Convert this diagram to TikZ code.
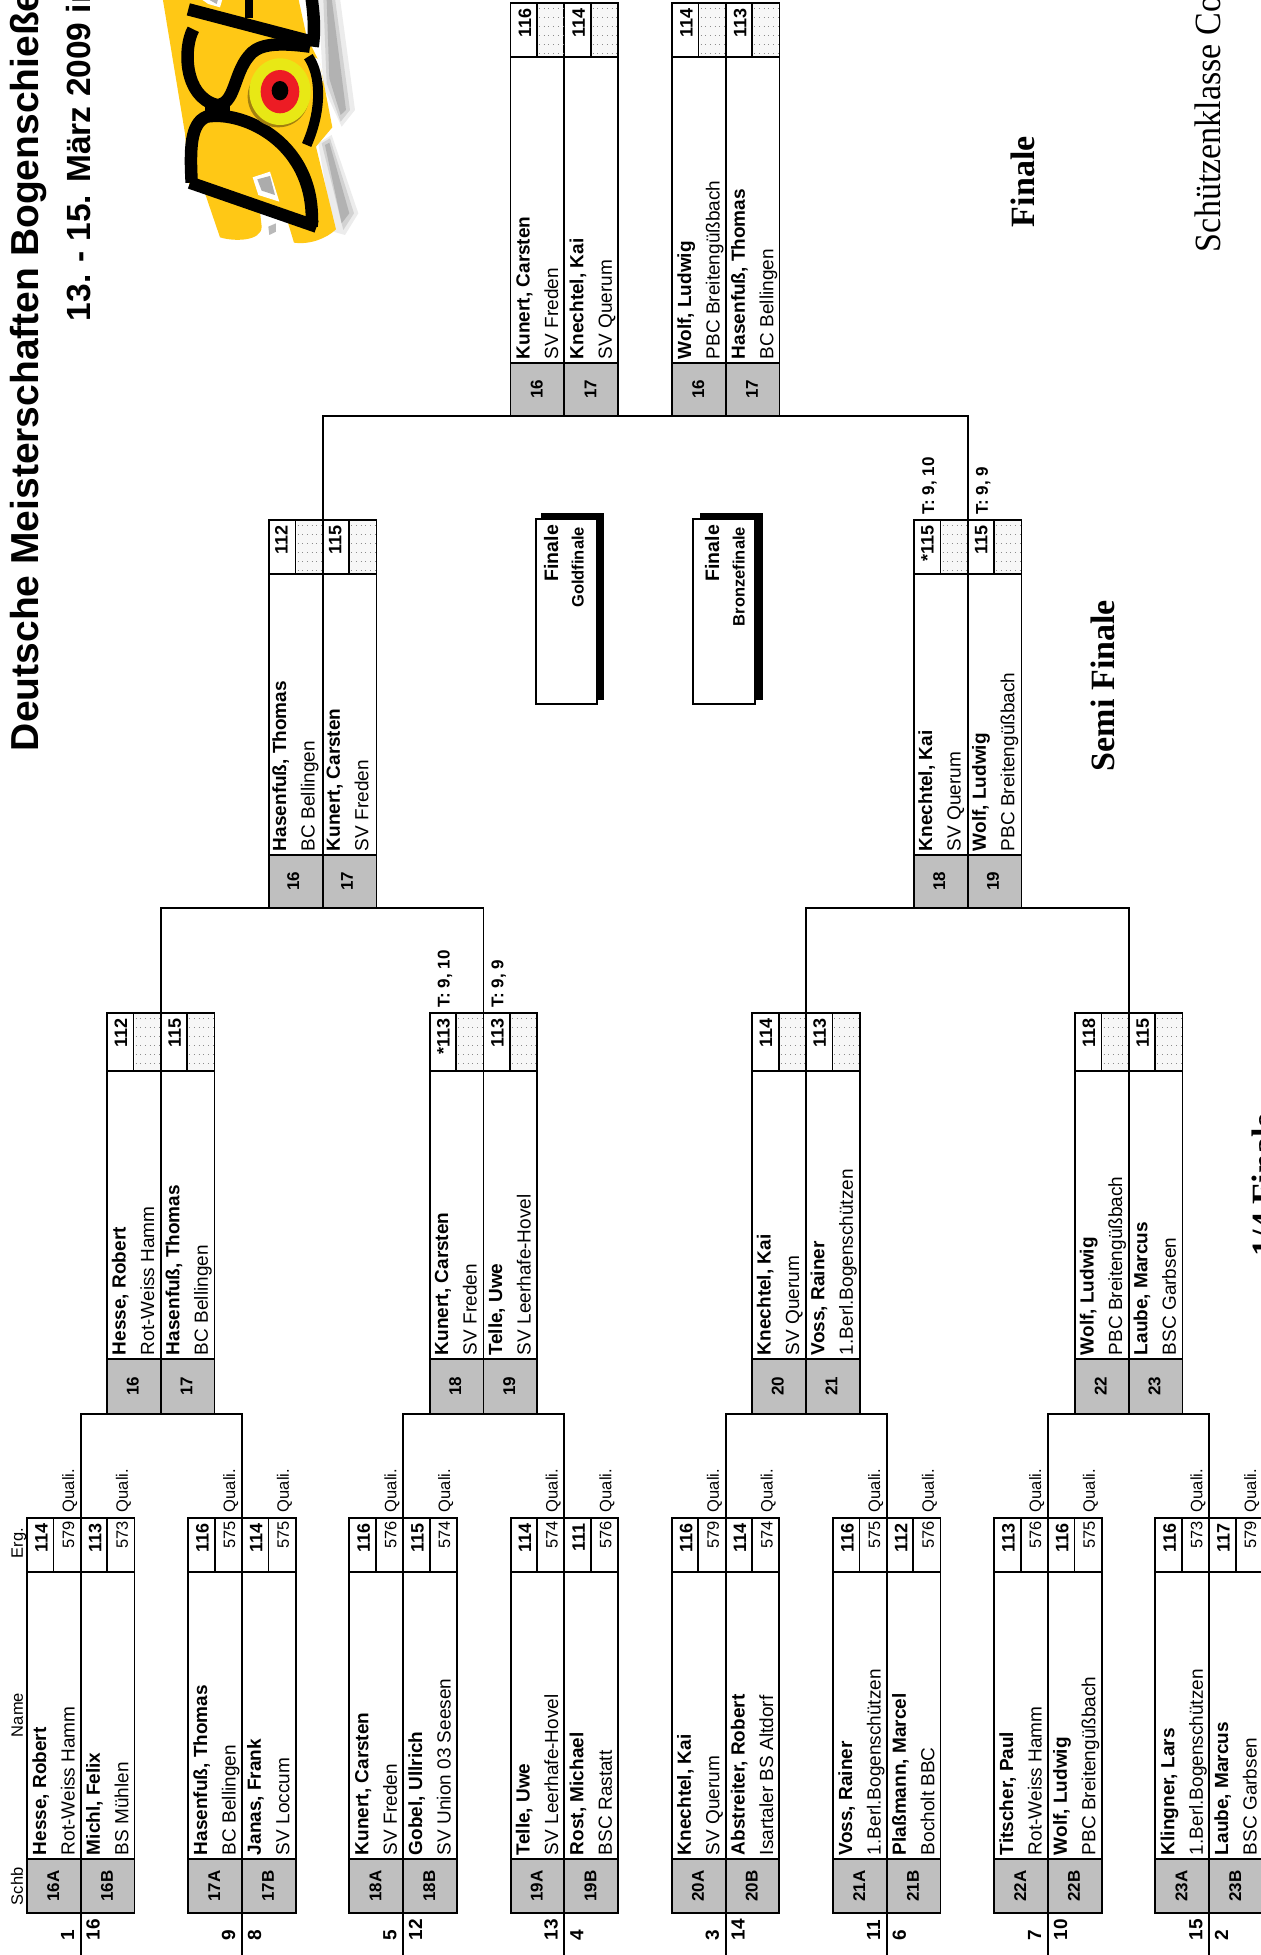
\documentclass[tikz,border=0pt]{standalone}
\usepackage{fontspec}
\setmainfont{Liberation Sans}
\newfontfamily\headserif{Liberation Serif}
\definecolor{cellgrey}{HTML}{BFBFBF}
\definecolor{dsbyellow}{HTML}{FFC815}
\definecolor{dsbtarget}{HTML}{E8E815}
\definecolor{dsbred}{HTML}{ED1C24}
\tikzset{
  rule/.style={line width=1.9pt,black},
  matchbox/.style={draw,rule,inner sep=0pt,outer sep=0pt,minimum width=107.5pt},
  up/.style={rotate=90,inner sep=0pt,outer sep=0pt,anchor=base west},
  upend/.style={rotate=90,inner sep=0pt,outer sep=0pt,anchor=base east},
  upmid/.style={rotate=90,inner sep=0pt,outer sep=0pt,anchor=base},
  conn/.style={rule,line cap=rect},
  finbox/.style={draw,rule,fill=white,inner sep=0pt,outer sep=0pt},
  finshadow/.style={fill=black,draw=black,inner sep=0pt,outer sep=0pt},
  logostroke/.style={draw=black,line width=12.5pt,line join=round,line cap=butt},
}
\newcommand{\sz}[1]{\fontsize{#1}{#1}\selectfont}
\newcommand{\setround}[4]{\def\rT{#1}\def\rA{#2}\def\rB{#3}\def\rE{#4}}
% box of a match: name, left edge
\newcommand{\Match}[2]{%
  \fill[cellgrey] (#2,\rB) rectangle ({#2+107.5},\rE);
  \node[matchbox,minimum height={(\rE-\rT)*1pt}] (#1) at ({#2+53.75},{(\rT+\rE)/2}) {};
  \draw[rule] (#2,\rA) -- ({#2+107.5},\rA) (#2,\rB) -- ({#2+107.5},\rB);
  \draw[rule] ({#2+53.75},\rT) -- ({#2+53.75},\rE);
  \draw[rule] ({#2+26.5},\rT) -- ({#2+26.5},\rA) ({#2+80.25},\rT) -- ({#2+80.25},\rA);
}
% texts of one half: id, left edge, label, name, club, score
\newcommand{\Side}[6]{%
  \node[upmid] (#1-lab) at ({#2+32},{(\rB+\rE)/2}) {\sz{17}\bfseries #3};
  \node[up] (#1-name) at ({#2+19},{\rB-4}) {\sz{19}\bfseries #4};
  \node[up] (#1-club) at ({#2+47.5},{\rB-4}) {\sz{19}#5};
  \node[upend] (#1-score) at ({#2+20.5},{\rT+5}) {\sz{18}\bfseries #6};
}
\newcommand{\Qual}[3]{%
  \node[upend] (#1-qv) at ({#2+47},{\rT+3}) {\sz{16.5}#3};
  \node[up] (#1-ql) at ({#2+47},{\rT-6}) {\sz{16.5}Quali.};
}
\newcommand{\Dots}[1]{%
  \fill[gray!6] ({#1+27.6},{\rT+1}) rectangle ({#1+52.7},{\rA-1});
  \foreach \dy in {5,14,23,32,41,50}
    \draw[gray!90,line width=0.8pt,dash pattern=on 0.8pt off 3.9pt] ({#1+28.5},{\rT+\dy}) -- ({#1+52.5},{\rT+\dy});
}
\newcommand{\Tie}[3]{\node[up] (#1) at ({#2+20},{\rT-6}) {\sz{17}\bfseries #3};}
\newcommand{\Seed}[3]{\node[up] (#1) at (#2,1940) {\sz{19}\bfseries #3};}
\begin{document}
\begin{tikzpicture}[x=1pt,y=-1pt]
\clip (0,0) rectangle (1261,1955);
\fill[white] (0,0) rectangle (1261,1955);

% ---------- logo ----------
\begin{scope}[shift={(150,0)},x=0.3333pt,y=-0.3333pt]
  \fill[gray!15] (505,-5) -- (570,-5) -- (615,330) -- (575,380) -- (520,260) -- cycle;
  \fill[gray!35] (520,-5) -- (555,-5) -- (600,330) -- (572,365) -- (530,250) -- cycle;
  \fill[gray!60] (530,-5) -- (545,-5) -- (588,330) -- (572,345) -- (538,235) -- cycle;
  \fill[gray!15] (505,430) -- (545,405) -- (625,640) -- (585,705) -- (550,695) -- cycle;
  \fill[gray!35] (515,430) -- (540,415) -- (612,640) -- (580,690) -- cycle;
  \fill[gray!60] (525,435) -- (538,428) -- (598,640) -- (575,670) -- cycle;
  \fill[dsbyellow] (38,-5) -- (105,400) -- (118,560) -- (165,580) -- (210,712)
     .. controls (250,725) and (335,725) .. (335,680) -- (330,635) -- (410,655) -- (432,728)
     .. controls (480,735) and (530,715) .. (558,688) -- (498,440) -- (547,382) -- (510,190) -- (470,110) -- (445,-5) -- cycle;
  \fill[white] (455,-5) -- (478,-5) -- (478,70) -- cycle;
  \fill[white] (490,170) -- (510,180) -- (520,250) -- cycle;
  \fill[white] (308,532) -- (360,515) -- (388,605) -- (325,585) -- cycle;
  \fill[gray!65] (322,538) -- (360,528) -- (375,585) -- (335,572) -- cycle;
  \fill[white] (335,635) -- (388,650) -- (385,700) -- (345,718) -- cycle;
  \fill[gray!55] (355,680) -- (378,670) -- (378,695) -- (358,705) -- cycle;
  \fill[white] (150,-5) -- (218,-5) -- (210,22) -- (175,12) -- cycle;
  \fill[gray!60] (170,-5) -- (205,-5) -- (200,12) -- cycle;
  \draw[logostroke] (115,28) -- (485,125);
  \draw[logostroke,line width=8pt] (297,-5) -- (297,55);
  \draw[logostroke] (485,-5) .. controls (492,50) and (495,90) .. (488,140);
  \draw[logostroke] (130,88) .. controls (100,140) and (100,290) .. (200,315)
     .. controls (255,315) and (250,225) .. (295,170) .. controls (320,135) and (370,125) .. (480,140);
  \draw[logostroke,line width=10pt] (475,170) .. controls (510,220) and (520,320) .. (470,435);
  \draw[logostroke] (125,548) .. controls (120,450) and (120,370) .. (170,350) .. controls (280,330) and (500,430) .. (485,680);
  \draw[logostroke] (120,548) -- (500,680);
  \draw[logostroke,line width=8pt] (165,325) -- (240,325);
  \fill[black!20!dsbyellow!80!black] (385,290) ellipse [x radius=92,y radius=92];
  \fill[dsbtarget] (390,275) ellipse [x radius=92,y radius=100];
  \fill[dsbred] (390,275) ellipse [x radius=58,y radius=65];
  \fill[black] (390,272) ellipse [x radius=25,y radius=29];
\end{scope}

% ---------- titles ----------
\node[up] (title) at (38.5,751) {\sz{39}\bfseries Deutsche Meisterschaften Bogenschießen};
\node[up] (date) at (90,321) {\sz{33.5}\bfseries 13. - 15. März 2009 in};
\node[up] (klasse) at (1220,252) {\scalebox{0.92}[1]{\headserif\sz{37}Schützenklasse Co}};
\node[up] (hfinale) at (1034,227) {\headserif\sz{34}\bfseries Finale};
\node[up] (hsemi) at (1114,771) {\headserif\sz{34}\bfseries Semi Finale};
\node[up] (hquarter) at (1275,1256) {\headserif\sz{34}\bfseries 1/4 Finale};

% ---------- column heads ----------
\node[up] (hschb) at (23,1905) {\sz{16.5}Schb};
\node[up] (hname) at (23,1737) {\sz{16.5}Name};
\node[up] (herg) at (23,1558) {\sz{16.5}Erg.};

% ---------- round of 16 ----------
\setround{1518}{1572}{1859}{1913}
\Match{ra}{27}
\Side{ra1}{27}{16A}{Hesse, Robert}{Rot-Weiss Hamm}{114}\Qual{ra1}{27}{579}
\Side{ra2}{80.75}{16B}{Michl, Felix}{BS Mühlen}{113}\Qual{ra2}{80.75}{573}
\Match{rb}{188.2}
\Side{rb1}{188.2}{17A}{Hasenfuß, Thomas}{BC Bellingen}{116}\Qual{rb1}{188.2}{575}
\Side{rb2}{241.95}{17B}{Janas, Frank}{SV Loccum}{114}\Qual{rb2}{241.95}{575}
\Match{rc}{349.4}
\Side{rc1}{349.4}{18A}{Kunert, Carsten}{SV Freden}{116}\Qual{rc1}{349.4}{576}
\Side{rc2}{403.15}{18B}{Gobel, Ullrich}{SV Union 03 Seesen}{115}\Qual{rc2}{403.15}{574}
\Match{rd}{510.6}
\Side{rd1}{510.6}{19A}{Telle, Uwe}{SV Leerhafe-Hovel}{114}\Qual{rd1}{510.6}{574}
\Side{rd2}{564.35}{19B}{Rost, Michael}{BSC Rastatt}{111}\Qual{rd2}{564.35}{576}
\Match{re}{671.8}
\Side{re1}{671.8}{20A}{Knechtel, Kai}{SV Querum}{116}\Qual{re1}{671.8}{579}
\Side{re2}{725.55}{20B}{Abstreiter, Robert}{Isartaler BS Altdorf}{114}\Qual{re2}{725.55}{574}
\Match{rf}{833}
\Side{rf1}{833}{21A}{Voss, Rainer}{1.Berl.Bogenschützen}{116}\Qual{rf1}{833}{575}
\Side{rf2}{886.75}{21B}{Plaßmann, Marcel}{Bocholt BBC}{112}\Qual{rf2}{886.75}{576}
\Match{rg}{994.2}
\Side{rg1}{994.2}{22A}{Titscher, Paul}{Rot-Weiss Hamm}{113}\Qual{rg1}{994.2}{576}
\Side{rg2}{1047.95}{22B}{Wolf, Ludwig}{PBC Breitengüßbach}{116}\Qual{rg2}{1047.95}{575}
\Match{rh}{1155.4}
\Side{rh1}{1155.4}{23A}{Klingner, Lars}{1.Berl.Bogenschützen}{116}\Qual{rh1}{1155.4}{573}
\Side{rh2}{1209.15}{23B}{Laube, Marcus}{BSC Garbsen}{117}\Qual{rh2}{1209.15}{579}

% seeds
\Seed{s1}{74}{1}\Seed{s2}{99.5}{16}
\Seed{s3}{235}{9}\Seed{s4}{261}{8}
\Seed{s5}{396.4}{5}\Seed{s6}{422}{12}
\Seed{s7}{557.6}{13}\Seed{s8}{583.4}{4}
\Seed{s9}{718.8}{3}\Seed{s10}{744.6}{14}
\Seed{s11}{880}{11}\Seed{s12}{905.8}{6}
\Seed{s13}{1041.2}{7}\Seed{s14}{1067}{10}
\Seed{s15}{1202.4}{15}\Seed{s16}{1228.2}{2}

\foreach \b in {ra,rb,rc,rd,re,rf,rg,rh}{
  \coordinate (\b-end) at (\b.south |- 0,1955);
  \draw[rule] (\b.south) -- (\b-end);
}

% ---------- quarter finals ----------
\setround{1013}{1071}{1359}{1414}
\Match{qa}{107}
\Dots{107}\Dots{160.75}
\Side{qa1}{106.5}{16}{Hesse, Robert}{Rot-Weiss Hamm}{112}
\Side{qa2}{160.25}{17}{Hasenfuß, Thomas}{BC Bellingen}{115}
\Match{qb}{429.7}
\Dots{429.7}\Dots{483.45}
\Side{qb1}{429}{18}{Kunert, Carsten}{SV Freden}{*113}\Tie{qb1t}{429.7}{T: 9, 10}
\Side{qb2}{483}{19}{Telle, Uwe}{SV Leerhafe-Hovel}{113}\Tie{qb2t}{483.45}{T: 9, 9}
\Match{qc}{752.2}
\Dots{752.2}\Dots{805.95}
\Side{qc1}{751.7}{20}{Knechtel, Kai}{SV Querum}{114}
\Side{qc2}{805.45}{21}{Voss, Rainer}{1.Berl.Bogenschützen}{113}
\Match{qd}{1075}
\Dots{1075}\Dots{1128.75}
\Side{qd1}{1074.5}{22}{Wolf, Ludwig}{PBC Breitengüßbach}{118}
\Side{qd2}{1128.25}{23}{Laube, Marcus}{BSC Garbsen}{115}

% ---------- semi finals ----------
\setround{520}{574}{855}{908}
\Match{sa}{269}
\Dots{269}\Dots{322.75}
\Side{sa1}{267}{16}{Hasenfuß, Thomas}{BC Bellingen}{112}
\Side{sa2}{320.75}{17}{Kunert, Carsten}{SV Freden}{115}
\Match{sb}{914}
\Dots{914}\Dots{967.75}
\Side{sb1}{913}{18}{Knechtel, Kai}{SV Querum}{*115}\Tie{sb1t}{914}{T: 9, 10}
\Side{sb2}{966.75}{19}{Wolf, Ludwig}{PBC Breitengüßbach}{115}\Tie{sb2t}{967.75}{T: 9, 9}

% ---------- finals ----------
\setround{3}{57}{363}{416}
\Match{fa}{510.5}
\Dots{510.5}\Dots{564.25}
\Side{fa1}{510.5}{16}{Kunert, Carsten}{SV Freden}{116}
\Side{fa2}{564.25}{17}{Knechtel, Kai}{SV Querum}{114}
\Match{fb}{672}
\Dots{672}\Dots{725.75}
\Side{fb1}{672}{16}{Wolf, Ludwig}{PBC Breitengüßbach}{114}
\Side{fb2}{725.75}{17}{Hasenfuß, Thomas}{BC Bellingen}{113}

% ---------- connectors ----------
\draw[conn] (ra.north) |- (qa.south) -| (rb.north);
\draw[conn] (rc.north) |- (qb.south) -| (rd.north);
\draw[conn] (re.north) |- (qc.south) -| (rf.north);
\draw[conn] (rg.north) |- (qd.south) -| (rh.north);
\draw[conn] (qa.north) |- (sa.south) -| (qb.north);
\draw[conn] (qc.north) |- (sb.south) -| (qd.north);
\draw[conn] (sa.north) |- (fa.south) -| (sb.north);

% ---------- final labels ----------
\node[finshadow,minimum width=62pt,minimum height=186pt] (gs) at (572,606) {};
\node[finbox,minimum width=61pt,minimum height=185pt] (gb) at (566.5,611.5) {};
\node[upend] (gt1) at (558,525) {\sz{19.5}\bfseries Finale};
\node[upend] (gt2) at (583.5,527) {\sz{16.5}\bfseries Goldfinale};
\node[finshadow,minimum width=62pt,minimum height=186pt] (bs) at (731,606) {};
\node[finbox,minimum width=62pt,minimum height=185pt] (bb) at (724,611.5) {};
\node[upend] (bt1) at (719,525) {\sz{19.5}\bfseries Finale};
\node[upend] (bt2) at (744.5,527) {\sz{16.5}\bfseries Bronzefinale};
\end{tikzpicture}
\end{document}
